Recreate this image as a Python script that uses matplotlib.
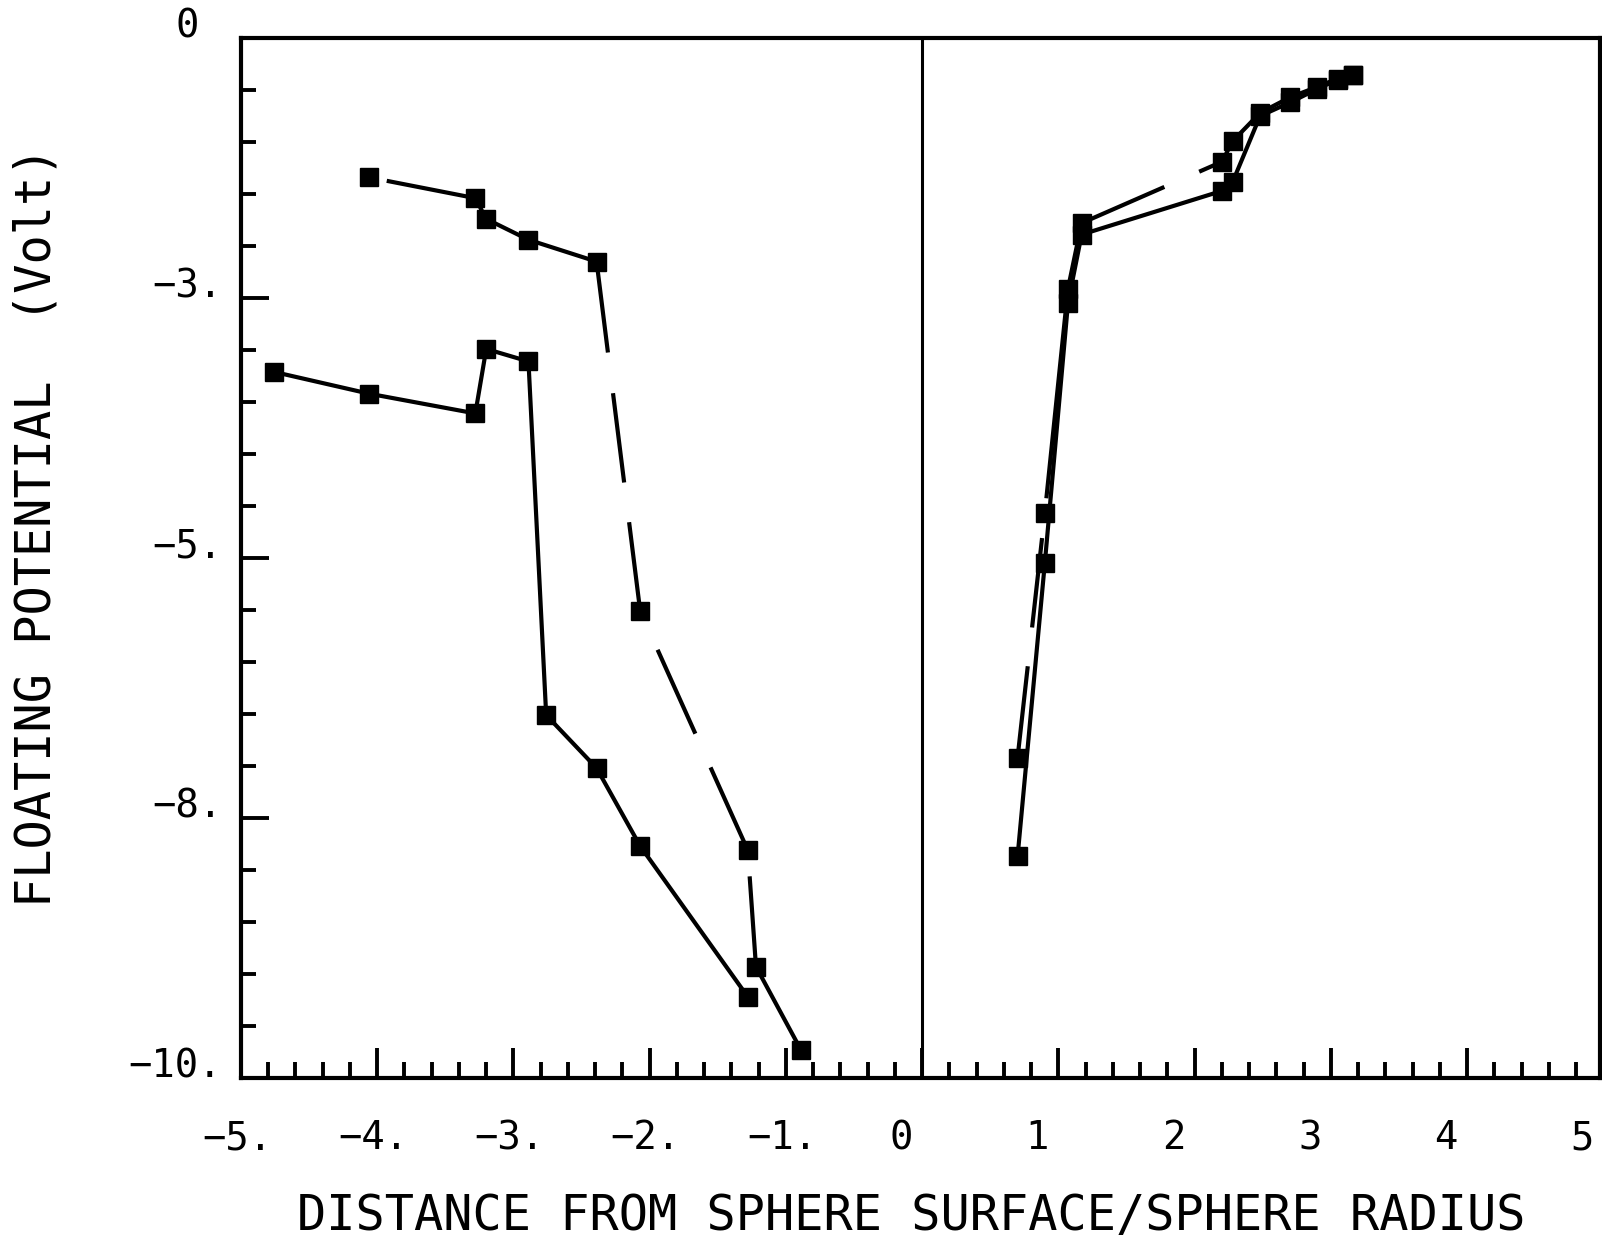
import matplotlib
matplotlib.use("Agg")
from matplotlib import pyplot as plt
from matplotlib.ticker import MultipleLocator
from matplotlib.transforms import ScaledTranslation

# left half, upper curve (dashed)
left_upper_x = [-4.06, -3.28, -3.20, -2.89, -2.39, -2.07, -1.28, -1.22, -0.89]
left_upper_y = [-1.34, -1.54, -1.74, -1.94, -2.15, -5.51, -7.81, -8.93, -9.73]

# left half, lower curve (solid)
left_lower_x = [-4.76, -4.06, -3.28, -3.20, -2.89, -2.76, -2.39, -2.07, -1.28]
left_lower_y = [-3.21, -3.42, -3.61, -2.99, -3.11, -6.51, -7.02, -7.77, -9.22]

# right half, shared distances
right_x = [0.70, 0.90, 1.07, 1.17, 2.20, 2.28, 2.48, 2.70, 2.90, 3.05, 3.16]
right_dashed_y = [-6.92, -4.57, -2.41, -1.78, -1.19, -0.99, -0.72, -0.57, -0.47, -0.39, -0.36]
right_solid_y = [-7.87, -5.05, -2.55, -1.89, -1.47, -1.38, -0.75, -0.62, -0.49, -0.40, -0.36]

# tick labels as printed on the plot
x_label_pos = [-5, -4, -3, -2, -1, 0, 1, 2, 3, 4, 5]
x_label_txt = ["\u22125.", "\u22124.", "\u22123.", "\u22122.", "\u22121.", "0", "1", "2", "3", "4", "5"]
y_label_pos = [0, -2.5, -5, -7.5, -10]
y_label_txt = ["0", "\u22123.", "\u22125.", "\u22128.", "\u221210."]

FONT = "DejaVu Sans Mono"
PX = 72 / 100  # points per pixel at dpi 100
LW = 3


def pen(px_list):
    # plotter dash pattern given in pixels -> units of line width
    return [p * PX / LW for p in px_list]


def main():
    fig = plt.figure(figsize=(16.02, 12.44), dpi=100)
    ax = fig.add_axes([241 / 1602, 1 - 1078 / 1244, 1359 / 1602, 1040 / 1244])
    ax.set_xlim(-5, 4.975)
    ax.set_ylim(-10, 0)

    for s in ax.spines.values():
        s.set_linewidth(3)

    ax.axvline(0, color="black", lw=2.2)

    marker = dict(marker="s", ms=13, mfc="black", mec="black", color="black", lw=LW)

    # the old plotter's dashes are not quite regular, so spell them out
    dash_a = pen([324, 41, 90, 40, 90, 42, 92, 37, 92, 25, 200, 18])
    ax.plot(left_upper_x, left_upper_y, ls=(sum(dash_a) - 18 * PX / LW, dash_a), **marker)
    ax.plot(left_lower_x, left_lower_y, **marker)
    dash_c = pen([92, 39, 90, 40, 368, 38, 250, 10])
    ax.plot(right_x, right_dashed_y, ls=(0, dash_c), **marker)
    ax.plot(right_x, right_solid_y, **marker)

    # ticks point inward, majors longer
    ax.xaxis.set_major_locator(MultipleLocator(1))
    ax.xaxis.set_minor_locator(MultipleLocator(0.2))
    ax.yaxis.set_major_locator(MultipleLocator(2.5))
    ax.yaxis.set_minor_locator(MultipleLocator(0.5))
    ax.tick_params(axis="x", which="major", direction="in", length=30 * PX, width=2.8,
                   bottom=True, top=False, labelbottom=False)
    ax.tick_params(axis="x", which="minor", direction="in", length=16 * PX, width=2.8,
                   bottom=True, top=False)
    ax.tick_params(axis="y", which="major", direction="in", length=28 * PX, width=2.8,
                   left=True, right=False, labelleft=False)
    ax.tick_params(axis="y", which="minor", direction="in", length=15 * PX, width=2.8,
                   left=True, right=False)

    # x tick labels, drawn by hand so that "5" shows and digits sit like the original
    xtrans = ax.get_xaxis_transform()
    for pos, txt in zip(x_label_pos, x_label_txt):
        dx = -4 if txt.endswith(".") else -21
        off = ScaledTranslation(dx * PX / 72, -60 * PX / 72, fig.dpi_scale_trans)
        ax.text(pos, 0, txt, transform=xtrans + off, ha="center", va="center",
                fontsize=28, family=FONT, clip_on=False)

    ytrans = ax.get_yaxis_transform()
    for pos, txt in zip(y_label_pos, y_label_txt):
        dx = -19 if txt.endswith(".") else -42
        off = ScaledTranslation(dx * PX / 72, 11 * PX / 72, fig.dpi_scale_trans)
        ax.text(0, pos, txt, transform=ytrans + off, ha="right", va="center",
                fontsize=28, family=FONT, clip_on=False)

    fig.text(0.569, 0.0225, "DISTANCE FROM SPHERE SURFACE/SPHERE RADIUS",
             ha="center", va="center", fontsize=35, family=FONT)
    fig.text(0.0225, 0.5764, "FLOATING POTENTIAL  (Volt)", rotation=90,
             ha="center", va="center", fontsize=35, family=FONT)

    fig.savefig("out.png", dpi=100)


if __name__ == "__main__":
    main()
